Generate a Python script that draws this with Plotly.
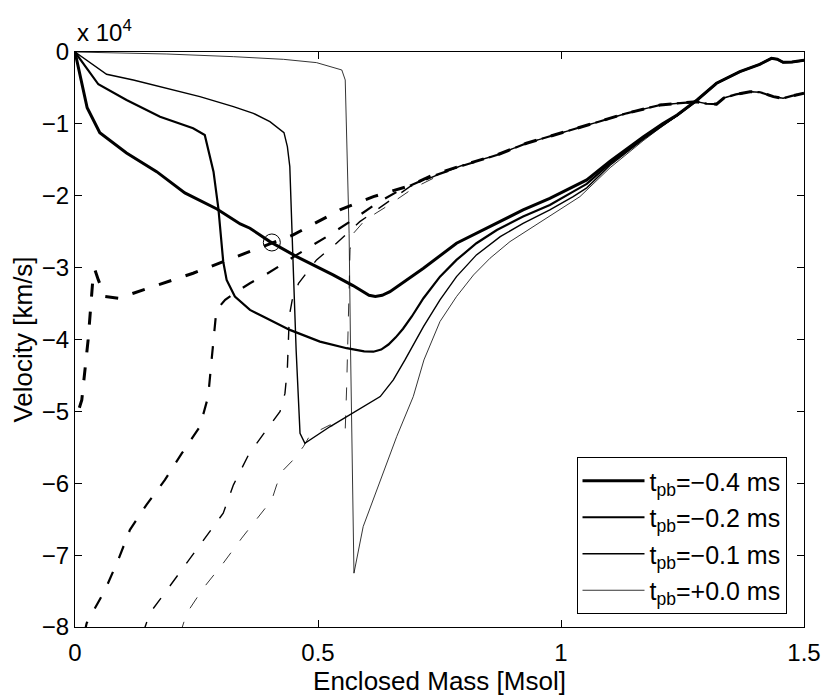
import plotly.graph_objects as go

# enclosed mass [Msol] and velocity [km/s]
# solid lines: velocity at four times, dashed lines: companion curves
mass_m04 = [0, 0.025, 0.051, 0.106, 0.168, 0.226, 0.292, 0.340, 0.360, 0.401, 0.456, 0.531, 0.572, 0.590, 0.605,
            0.618, 0.632, 0.648, 0.682, 0.717, 0.785, 0.854, 0.922, 0.977, 1.019, 1.053, 1.101, 1.169, 1.209,
            1.239, 1.280, 1.320, 1.368, 1.409, 1.433, 1.445, 1.457, 1.475, 1.5]
vel_m04 = [0, -7750, -11220, -14050, -16650, -19610, -21840, -23920, -24520, -26380, -28470, -31000, -32500,
           -33300, -33850, -34000, -33850, -33340, -31700, -30090, -26610, -24290, -21970, -20350, -18960,
           -17800, -15200, -11820, -10000, -8760, -6680, -4350, -2740, -1710, -880, -1000, -1430, -1400, -1150]

mass_m02 = [0, 0.048, 0.106, 0.175, 0.243, 0.267, 0.285, 0.295, 0.305, 0.312, 0.329, 0.360, 0.387, 0.442, 0.504,
            0.559, 0.595, 0.614, 0.630, 0.645, 0.660, 0.675, 0.693, 0.717, 0.751, 0.785, 0.826, 0.868, 0.922,
            0.977, 1.025, 1.053, 1.101, 1.169, 1.209, 1.239, 1.280, 1.320, 1.368, 1.409, 1.433, 1.445, 1.457,
            1.475, 1.5]
vel_m02 = [0, -4490, -6680, -9000, -10610, -11540, -16650, -21740, -29170, -31710, -34030, -35880, -36810,
           -38660, -40290, -41210, -41650, -41700, -41400, -40700, -39700, -38500, -36800, -34260, -31250,
           -28930, -26610, -24760, -22900, -21280, -19430, -18350, -15500, -12000, -10100, -8800, -6700, -4350,
           -2740, -1710, -880, -1000, -1430, -1400, -1150]

mass_m01 = [0, 0.065, 0.120, 0.189, 0.257, 0.326, 0.367, 0.401, 0.430, 0.437, 0.442, 0.449, 0.455, 0.463, 0.473,
            0.525, 0.593, 0.628, 0.655, 0.679, 0.717, 0.751, 0.785, 0.826, 0.875, 0.922, 0.977, 1.025, 1.053,
            1.101, 1.169, 1.209, 1.239, 1.280, 1.320, 1.368, 1.409, 1.433, 1.445, 1.457, 1.475, 1.5]
vel_m01 = [0, -3100, -3890, -5050, -6210, -7600, -8530, -9690, -11220, -13170, -15950, -29860, -41450, -53040,
           -54430, -52110, -49330, -47940, -45620, -42840, -38200, -34490, -31250, -28230, -25690, -23830,
           -21970, -20120, -18900, -15750, -12150, -10200, -8850, -6700, -4350, -2740, -1710, -880, -1000,
           -1430, -1400, -1150]

mass_p00 = [0, 0.189, 0.326, 0.429, 0.497, 0.549, 0.556, 0.559, 0.564, 0.567, 0.574, 0.593, 0.628, 0.662, 0.696,
            0.718, 0.751, 0.785, 0.820, 0.854, 0.895, 0.943, 0.991, 1.039, 1.101, 1.169, 1.209, 1.239, 1.280,
            1.320, 1.368, 1.409, 1.433, 1.445, 1.457, 1.475, 1.5]
vel_p00 = [0, -280, -650, -1020, -1480, -2500, -3890, -11310, -25220, -41450, -72510, -66020, -59530, -53500,
           -47940, -42840, -37500, -34030, -31020, -28690, -26380, -24290, -22210, -20120, -16100, -12350,
           -10300, -8900, -6700, -4350, -2740, -1710, -880, -1000, -1430, -1400, -1150]

# shared tail of the dashed curves
tail_mass = [0.868, 0.929, 0.998, 1.066, 1.135, 1.204, 1.279, 1.300, 1.320, 1.335, 1.360, 1.389, 1.410, 1.437,
             1.457, 1.475, 1.5]
tail_vel = [-14330, -12700, -11310, -9920, -8530, -7370, -6910, -7200, -7250, -6400, -5900, -5520, -5600, -6210,
            -6440, -6100, -5750]

dmass_m04 = [0.009, 0.014, 0.027, 0.038, 0.041, 0.048, 0.062, 0.089, 0.120, 0.182, 0.243, 0.305, 0.360, 0.405,
             0.449, 0.545, 0.614, 0.689, 0.737, 0.799] + tail_mass
dvel_m04 = [-49500, -48400, -40060, -30560, -30320, -31710, -34030, -34260, -33560, -32170, -30780, -29170,
            -27770, -26520, -25450, -21970, -20120, -18600, -17110, -15720] + tail_vel

dmass_m02 = [0.019, 0.024, 0.062, 0.089, 0.113, 0.147, 0.185, 0.220, 0.257, 0.267, 0.274, 0.285, 0.291, 0.309,
             0.333, 0.360, 0.391, 0.419, 0.456, 0.518, 0.566, 0.621, 0.669, 0.724, 0.799] + tail_mass
dvel_m02 = [-81000, -79460, -74830, -70650, -66480, -63000, -59530, -55820, -52110, -49790, -47940, -40060,
            -35880, -34490, -33330, -32170, -31020, -29860, -28230, -25690, -23600, -21050, -19190, -17570,
            -15800] + tail_vel

dmass_m01 = [0.139, 0.154, 0.192, 0.230, 0.267, 0.305, 0.326, 0.357, 0.394, 0.422, 0.432, 0.437, 0.440, 0.442,
             0.447, 0.460, 0.497, 0.538, 0.586, 0.634, 0.689, 0.760, 0.799] + tail_mass
dvel_m01 = [-81000, -78070, -74600, -71120, -67640, -64160, -60220, -56050, -52570, -50000, -47500, -44000,
            -38500, -36340, -34500, -32170, -28930, -26610, -23600, -21280, -18730, -16700, -15720] + tail_vel

dmass_p00 = [0.216, 0.230, 0.264, 0.305, 0.343, 0.384, 0.405, 0.415, 0.429, 0.449, 0.470, 0.484, 0.511, 0.525,
             0.531, 0.556, 0.559, 0.563, 0.566, 0.573, 0.597, 0.641, 0.696, 0.760, 0.799] + tail_mass
dvel_p00 = [-81000, -78070, -74600, -71120, -67640, -64160, -62310, -60220, -58140, -56750, -54900, -53270,
            -52340, -51880, -52110, -52570, -46550, -37270, -27500, -25220, -23370, -21500, -18960, -16800,
            -15720] + tail_vel

labels = ["t<sub>pb</sub>=\u22120.4 ms", "t<sub>pb</sub>=\u22120.2 ms",
          "t<sub>pb</sub>=\u22120.1 ms", "t<sub>pb</sub>=+0.0 ms"]

# intersection marked with a circle
circle_mass = [0.405]
circle_vel = [-26500]

ytick_vals = [-80000, -70000, -60000, -50000, -40000, -30000, -20000, -10000, 0]
ytick_text = ["\u22128", "\u22127", "\u22126", "\u22125", "\u22124", "\u22123", "\u22122", "\u22121", "0"]
xtick_vals = [0, 0.5, 1, 1.5]
xtick_text = ["0", "0.5", "1", "1.5"]

widths = [3.0, 2.2, 1.4, 0.8]
solid = [(mass_m04, vel_m04), (mass_m02, vel_m02), (mass_m01, vel_m01), (mass_p00, vel_p00)]
dashed = [(dmass_m04, dvel_m04), (dmass_m02, dvel_m02), (dmass_m01, dvel_m01), (dmass_p00, dvel_p00)]

fig = go.Figure()
for i in range(4):
    fig.add_trace(go.Scatter(
        x=solid[i][0], y=solid[i][1], mode="lines", name=labels[i],
        legendgroup="g%d" % i,
        line=dict(color="black", width=widths[i]),
    ))
for i in range(4):
    fig.add_trace(go.Scatter(
        x=dashed[i][0], y=dashed[i][1], mode="lines", showlegend=False,
        line=dict(color="black", width=widths[i], dash="13px,15px"),
    ))
fig.add_trace(go.Scatter(
    x=circle_mass, y=circle_vel, mode="markers", showlegend=False,
    marker=dict(symbol="circle-open", size=17, color="black", line=dict(width=1)),
))

font = "Liberation Sans, Arial, Helvetica, sans-serif"
# the page puts the figure 8px in from the corner, margins allow for that
fig.update_layout(
    width=830, height=697,
    margin=dict(l=67, r=34, t=44, b=78),
    paper_bgcolor="white", plot_bgcolor="white",
    font=dict(family=font, size=22, color="black"),
    legend=dict(
        x=0.976, y=0.0226, xanchor="right", yanchor="bottom",
        bgcolor="white", bordercolor="black", borderwidth=1,
        font=dict(size=25), tracegroupgap=1, itemwidth=62,
    ),
    annotations=[dict(
        text="x 10<sup>4</sup>", xref="paper", yref="paper", x=0, y=1,
        xanchor="left", yanchor="bottom", showarrow=False, yshift=4,
        font=dict(size=24),
    )],
)
fig.update_xaxes(
    range=[0, 1.5], tickvals=xtick_vals, ticktext=xtick_text,
    showgrid=False, zeroline=False, showline=True, mirror="ticks",
    linecolor="black", linewidth=1, ticks="inside", ticklen=7, tickcolor="black",
    tickfont=dict(size=24), ticklabelstandoff=4,
    title=dict(text="Enclosed Mass [Msol]", standoff=6),
)
fig.update_yaxes(
    range=[-80000, 0], tickvals=ytick_vals, ticktext=ytick_text,
    showgrid=False, zeroline=False, showline=True, mirror="ticks",
    linecolor="black", linewidth=1, ticks="inside", ticklen=7, tickcolor="black",
    tickfont=dict(size=24),
    title=dict(text="Velocity [km/s]", standoff=4),
)

fig.write_html("out.html")
